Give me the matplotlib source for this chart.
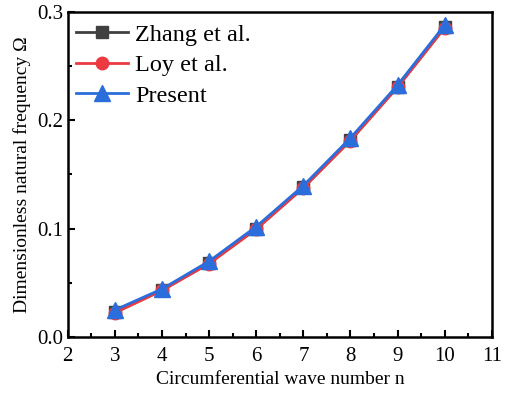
import numpy as np
import matplotlib.pyplot as plt
from matplotlib.ticker import MultipleLocator

plt.rcParams['font.family'] = ['Liberation Serif', 'DejaVu Serif']

# ----------------------------
# Data
# ----------------------------
n = [3, 4, 5, 6, 7, 8, 9, 10]
zhang = [0.0226, 0.0431, 0.0680, 0.0998, 0.1379, 0.1816, 0.2309, 0.2857]
loy = [0.0222, 0.0428, 0.0676, 0.0994, 0.1375, 0.1812, 0.2304, 0.2852]
present = [0.0248, 0.0442, 0.0698, 0.1018, 0.1396, 0.1836, 0.2324, 0.2878]

fig = plt.figure(figsize=(5.06, 3.94), dpi=100)
ax = fig.add_axes([0.134, 0.145, 0.838, 0.825])

ax.plot(n, zhang, color="#404040", marker="s", markersize=8, linewidth=2, label="Zhang et al.")
ax.plot(n, loy, color="#ec3b40", marker="o", markersize=9, linewidth=2, label="Loy et al.")
ax.plot(n, present, color="#2a6ddb", marker="^", markersize=11, linewidth=2, label="Present")

ax.set_xlim(2, 11)
ax.set_ylim(0, 0.3)
ax.xaxis.set_major_locator(MultipleLocator(1))
ax.xaxis.set_minor_locator(MultipleLocator(0.5))
ax.yaxis.set_major_locator(MultipleLocator(0.1))
ax.yaxis.set_minor_locator(MultipleLocator(0.05))
ax.tick_params(which="both", direction="in", labelsize=15, width=1.5)
ax.tick_params(which="major", length=5)
ax.tick_params(which="minor", length=3)
ax.tick_params(axis="x", pad=7)
for s in ax.spines.values():
    s.set_linewidth(1.8)

ax.set_xlabel("Circumferential wave number n", fontsize=14, labelpad=4)
ax.set_ylabel("Dimensionless natural frequency Ω", fontsize=14, labelpad=4)

ax.legend(loc="upper left", bbox_to_anchor=(0.009, 0.978), frameon=False,
          fontsize=17.5, handlelength=2.1, borderaxespad=0.0, borderpad=0.2,
          labelspacing=0.35, handletextpad=0.3)

plt.savefig("out.png", dpi=100)
plt.close()
